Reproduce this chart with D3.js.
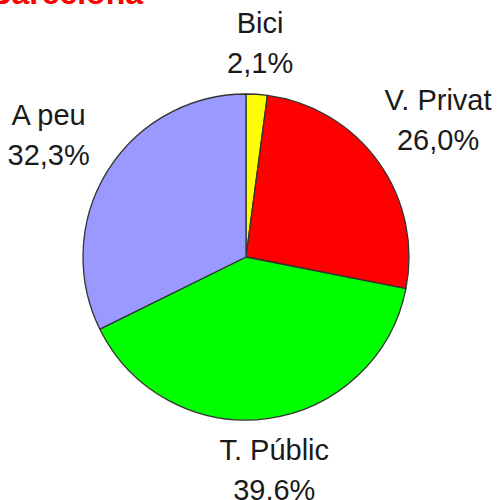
<!DOCTYPE html>
<html>
<head>
<meta charset="utf-8">
<script src="https://cdn.jsdelivr.net/npm/d3@7"></script>
<style>
  body { margin: 0; background: #fff; }
  svg { display: block; }
</style>
</head>
<body>
<svg></svg>
<script>
// data
var categories = ['Bici', 'V. Privat', 'T. Públic', 'A peu'];
var values = [2.1, 26.0, 39.6, 32.3];
var valueLabels = ['2,1%', '26,0%', '39,6%', '32,3%'];
var colors = ['#ffff00', '#ff0000', '#00ff00', '#9999ff'];
var title = 'Barcelona';

var width = 504, height = 500;
var cx = 246, cy = 257, radius = 163;

let svg = d3.select('svg').attr('width', width).attr('height', height);

// title, cut off at the top of the picture
svg
	.append('text')
	.attr('x', 143)
	.attr('y', 4)
	.attr('text-anchor', 'end')
	.style('font-family', '"Liberation Sans", Arial, sans-serif')
	.style('font-weight', 'bold')
	.style('font-size', '32px')
	.attr('fill', '#ff0000')
	.text(title);

let pie = d3.pie().sort(null).value((d) => d.value);
let arc = d3.arc().innerRadius(0).outerRadius(radius);

let rows = categories.map((c, i) => ({ name: c, value: values[i], label: valueLabels[i], color: colors[i] }));
let arcs = pie(rows);

let g = svg.append('g').attr('transform', 'translate(' + cx + ',' + cy + ')');

g
	.selectAll('.slice')
	.data(arcs)
	.enter()
	.append('path')
	.attr('class', 'slice')
	.attr('d', arc)
	.attr('fill', (d) => d.data.color)
	.attr('stroke', '#333')
	.attr('stroke-width', 1.3)
	.attr('stroke-linejoin', 'round');

// labels: the label box touches a point just outside the pie on the mid angle
var fontSize = 29, capH = 21, lineGap = 40;
var labelR = 184;

let labels = g
	.selectAll('.lbl')
	.data(arcs)
	.enter()
	.append('text')
	.attr('class', 'lbl')
	.attr('text-anchor', 'middle')
	.style('font-family', '"Liberation Sans", Arial, sans-serif')
	.style('font-size', fontSize + 'px')
	.attr('fill', '#1a1a1a');

labels.each(function(d) {
	let t = d3.select(this);
	let a = (d.startAngle + d.endAngle) / 2;
	let s = Math.sin(a), c = Math.cos(a);
	let l1 = t.append('tspan').attr('x', 0).text(d.data.name);
	let l2 = t.append('tspan').attr('x', 0).text(d.data.label);
	let w = Math.max(l1.node().getComputedTextLength(), l2.node().getComputedTextLength());
	let h = capH + lineGap;
	// push the box out along the ray until its edge sits on the anchor point
	let k = Math.min(w / 2 / Math.max(Math.abs(s), 1e-6), h / 2 / Math.max(Math.abs(c), 1e-6));
	let x = s * (labelR + k);
	let y = -c * (labelR + k);
	let top = y - h / 2;
	l1.attr('x', x).attr('y', top + capH);
	l2.attr('x', x).attr('y', top + capH + lineGap);
});
</script>
</body>
</html>
